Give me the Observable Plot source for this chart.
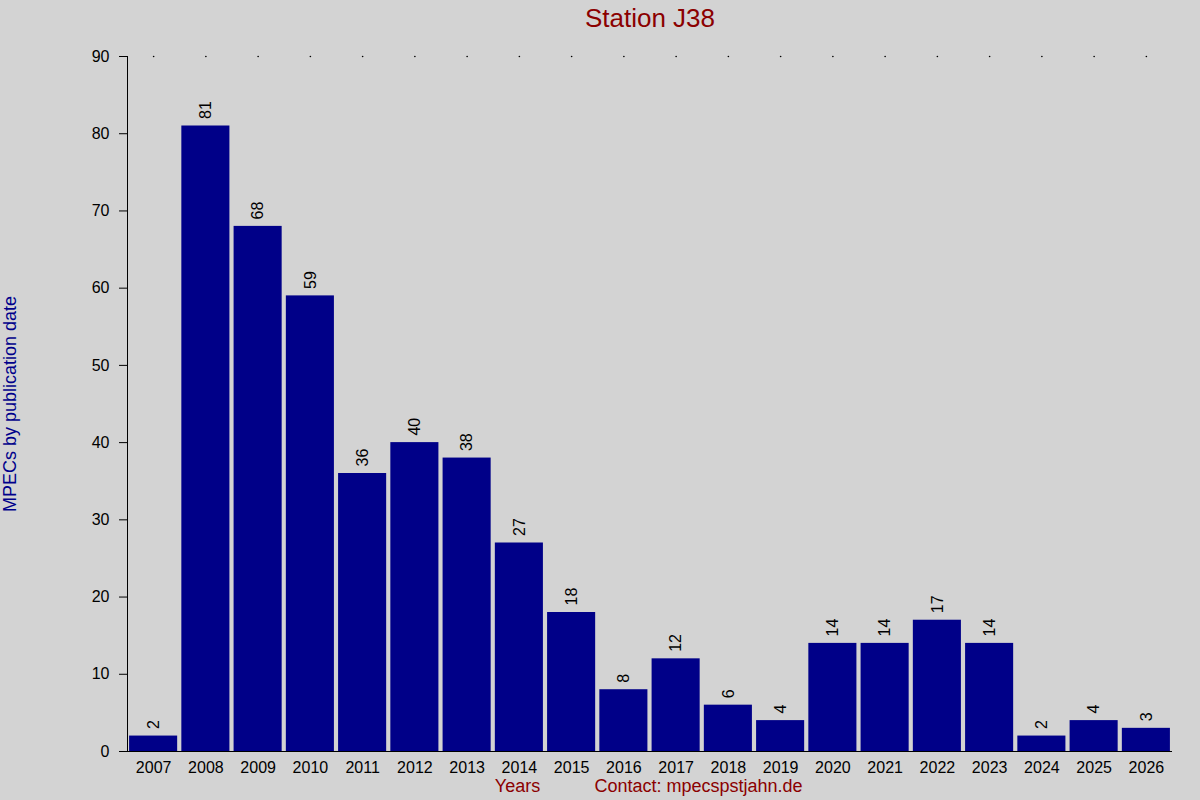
<!DOCTYPE html>
<html><head><meta charset="utf-8">
<script src="https://cdn.jsdelivr.net/npm/d3@7"></script>
<script src="https://cdn.jsdelivr.net/npm/@observablehq/plot@0.6"></script>
<style>
html,body{margin:0;padding:0;background:#d3d3d3;}
</style></head>
<body><div id="chart"></div>
<script>
const years = ["2007","2008","2009","2010","2011","2012","2013","2014","2015","2016","2017","2018","2019","2020","2021","2022","2023","2024","2025","2026"];
const counts = [2,81,68,59,36,40,38,27,18,8,12,6,4,14,14,17,14,2,4,3];
const yTicks = [0,10,20,30,40,50,60,70,80,90];
const data = years.map((y,i)=>({year:y, n:counts[i]}));

const chart = Plot.plot({
  width:1200, height:800,
  marginTop:56, marginBottom:49, marginLeft:127, marginRight:28,
  style:{background:"#d3d3d3", fontFamily:"'Liberation Sans', Arial, sans-serif", fontSize:"16px", color:"black"},
  x:{domain:years, paddingInner:0.08, paddingOuter:0.04, round:false, label:null},
  y:{domain:[0,90], label:null},
  marks:[
    Plot.barY(data,{x:"year", y:"n", fill:"#000088"}),
    Plot.text(data,{x:"year", y:"n", text:d=>String(d.n), rotate:-90, textAnchor:"start", dy:-7, fontSize:16, fill:"black"}),
    Plot.dot(years,{x:d=>d, y:()=>90, r:0.8, fill:"black", stroke:null}),
    Plot.axisY({ticks:yTicks, tickSize:8, tickPadding:10, fontSize:16, label:null}),
    Plot.axisX({tickSize:0, tickPadding:10, fontSize:16, label:null}),
    Plot.frame({anchor:"left", stroke:"black"}),
    Plot.ruleY([0],{stroke:"black"}),
    Plot.text(["Station J38"],{frameAnchor:"top", dy:-38, fontSize:26, fill:"#8b0000", lineAnchor:"middle"}),
    Plot.text(["MPECs by publication date"],{frameAnchor:"left", dx:-117, rotate:-90, fontSize:18, fill:"#00008b", textAnchor:"middle", lineAnchor:"middle"}),
    Plot.text(["Years"],{frameAnchor:"bottom-left", dx:390, dy:35, fontSize:18, fill:"#8b0000", textAnchor:"middle", lineAnchor:"middle"}),
    Plot.text(["Contact: mpecspstjahn.de"],{frameAnchor:"bottom-left", dx:571, dy:35, fontSize:18, fill:"#8b0000", textAnchor:"middle", lineAnchor:"middle"})
  ]
});
document.getElementById("chart").appendChild(chart);
</script></body></html>
